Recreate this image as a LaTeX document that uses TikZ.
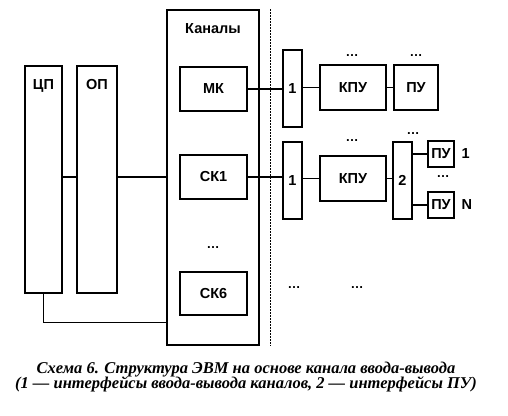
\documentclass[tikz,border=0pt]{standalone}
\usepackage{fontspec}
\setmainfont{Liberation Serif}
\setsansfont{Liberation Sans}
\tikzset{
  blk/.style={draw,inner sep=0pt},
  wh/.style 2 args={minimum width=#1,minimum height=#2},
  toplbl/.style={label={[anchor=north,inner sep=0pt,yshift=-13.5pt]north:#1}},
  etc/.style={inner sep=0pt,font=\sffamily\bfseries\fontsize{13}{15}\selectfont}
}
\begin{document}
\begin{tikzpicture}[x=1pt,y=-1pt,line width=1.3pt,
  font=\sffamily\bfseries\fontsize{14.5}{16}\selectfont]
\useasboundingbox (0,0) rectangle (508,415);

\node[blk,wh={37pt}{227pt},toplbl={ЦП}] (cp) at (43.5,179.5) {};
\node[blk,wh={40pt}{227pt},toplbl={ОП}] (op) at (97,179.5) {};
\node[blk,wh={92pt}{335pt},toplbl={Каналы}] (kan) at (213,177.5) {};
\node[blk,wh={67pt}{44pt}] (mk) at (213.5,89) {МК};
\node[blk,wh={67pt}{44pt}] (sk1) at (213.5,177) {СК1};
\node[etc] (kdots) at (213,248) {\dots};
\node[blk,wh={67pt}{43pt}] (sk6) at (213.5,293.5) {СК6};

\draw[line width=1.5pt,dash pattern=on 1.2pt off 1.8pt] ([xshift=11pt]kan.north east) -- ([xshift=11pt]kan.south east);

\node[blk,wh={19pt}{77pt}] (ifa) at (292.5,88.5) {1};
\node[blk,wh={66pt}{45pt}] (kpua) at (353,87.5) {КПУ};
\node[blk,wh={44pt}{45pt}] (pua) at (416,87.5) {ПУ};
\node[etc] (da1) at (352,56) {\dots};
\node[etc] (da2) at (416,56) {\dots};

\node[blk,wh={19pt}{77pt}] (ifb) at (292.5,180.5) {1};
\node[blk,wh={66pt}{45pt}] (kpub) at (353,178.5) {КПУ};
\node[blk,wh={19pt}{77pt}] (ifc) at (402.5,180.5) {2};
\node[blk,wh={26pt}{26pt},label={[label distance=3pt]right:1}] (pu1) at (441,154) {ПУ};
\node[blk,wh={26pt}{26pt},label={[label distance=3pt]right:N}] (pun) at (441,205) {ПУ};
\node[etc] (db1) at (352,141) {\dots};
\node[etc] (db2) at (413,134) {\dots};
\node[etc] (db3) at (443,177) {\dots};

\node[etc] (dc1) at (294,288) {\dots};
\node[etc] (dc2) at (357,288) {\dots};

\draw (cp.east |- sk1) -- (op.west |- sk1);
\draw (op.east |- sk1) -- (kan.west |- sk1);
\draw (cp.south) |- ([yshift=-29pt]cp.south -| kan.west);
\draw (mk.east) -- (mk.east -| ifa.west);
\draw (ifa.east |- kpua) -- (kpua.west);
\draw (kpua) -- (pua);
\draw (sk1.east) -- (sk1.east -| ifb.west);
\draw (ifb.east |- kpub) -- (kpub.west);
\draw (kpub.east) -- (kpub.east -| ifc.west);
\draw (ifc.east |- pu1) -- (pu1.west);
\draw (ifc.east |- pun) -- (pun.west);

\node[align=center,font=\rmfamily\bfseries\itshape\fontsize{16.5}{15.5}\selectfont] (cap) at (246,377)
  {Схема 6. Структура ЭВМ на основе канала ввода-вывода\\(1 — интерфейсы ввода-вывода каналов, 2 — интерфейсы ПУ)};
\end{tikzpicture}
\end{document}
